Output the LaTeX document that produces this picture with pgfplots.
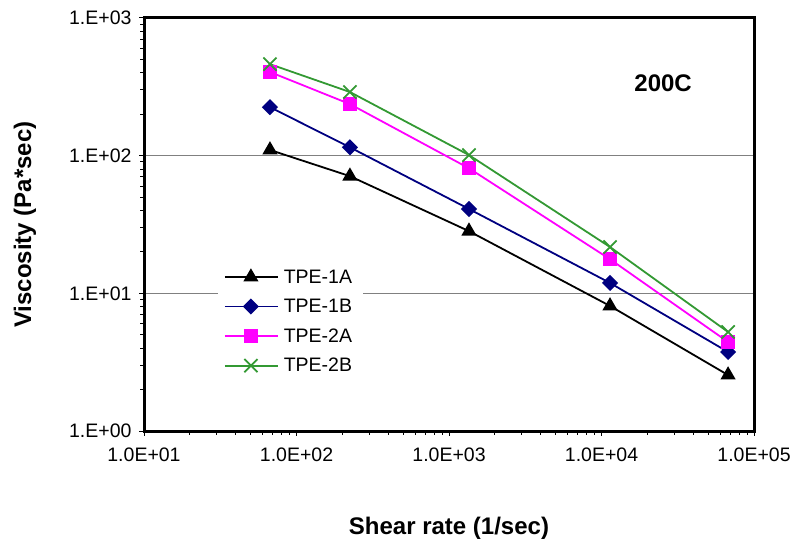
\documentclass[border=0pt]{standalone}
\usepackage{pgfplots}
\pgfplotsset{compat=1.18}
\usepackage{fontspec}
\setmainfont{Liberation Sans}
\definecolor{cnavy}{RGB}{0,0,128}
\definecolor{cmag}{RGB}{255,0,255}
\definecolor{cgreen}{RGB}{51,153,51}

\begin{document}
\begin{tikzpicture}
\useasboundingbox (0,0) rectangle (797pt,550pt);
\begin{axis}[
	at={(144pt,119pt)}, anchor=south west,
	scale only axis, width=610pt, height=413pt,
	xmode=log, ymode=log,
	xmin=10, xmax=1e5, ymin=1, ymax=1e3,
	xtick={10,100,1000,10000,100000},
	xticklabels={1.0E+01,1.0E+02,1.0E+03,1.0E+04,1.0E+05},
	ytick={1,10,100,1000},
	yticklabels={1.E+00,1.E+01,1.E+02,1.E+03},
	tick align=outside, xtick pos=left, ytick pos=left,
	major tick length=5pt, minor tick length=4pt,
	every tick/.style={black, line width=1pt},
	axis line style={line width=3pt},
	ymajorgrids, grid style={gray, line width=1.2pt},
	tick label style={font=\fontsize{19.5}{22}\selectfont},
	xticklabel style={yshift=-8pt},
	yticklabel style={xshift=-4pt},
	legend style={at={(0.121,0.125)}, anchor=south west, draw=none, fill=white,
		row sep=10.5pt, inner xsep=6pt, inner ysep=4pt,
		nodes={font=\fontsize{19.5}{22}\selectfont, inner xsep=5pt}},
	legend cell align=left,
	legend image code/.code={\draw[#1, mark repeat=2, mark phase=2] plot coordinates {(0pt,0pt) (26pt,0pt) (53pt,0pt)};},
	every axis plot/.append style={line width=1.8pt},
	clip=false,
]
\addplot[black, mark=triangle*, mark size=7pt] coordinates {
	(67,110) (224,71) (1352,28.3) (11370,8.1) (67600,2.55)};
\addlegendentry{TPE-1A}
\addplot[cnavy, mark=square*, mark size=4.8pt, mark options={rotate=45}] coordinates {
	(67,225) (224,115) (1352,41) (11370,11.9) (67600,3.75)};
\addlegendentry{TPE-1B}
\addplot[cmag, mark=square*, mark size=6pt] coordinates {
	(67,405) (224,237) (1352,81) (11370,17.7) (67600,4.43)};
\addlegendentry{TPE-2A}
\addplot[cgreen, mark=x, mark size=9.3pt] coordinates {
	(67,462) (224,290) (1352,101) (11370,21.7) (67600,5.24)};
\addlegendentry{TPE-2B}
\node[font=\bfseries\fontsize{24}{28}\selectfont] at (rel axis cs:0.851,0.843) {200C};
\node[font=\bfseries\fontsize{24}{28}\selectfont] at (rel axis cs:0.5,-0.235) {Shear rate (1/sec)};
\node[font=\bfseries\fontsize{24}{28}\selectfont, rotate=90] at (rel axis cs:-0.195,0.5) {Viscosity (Pa*sec)};
\end{axis}
\end{tikzpicture}
\end{document}
